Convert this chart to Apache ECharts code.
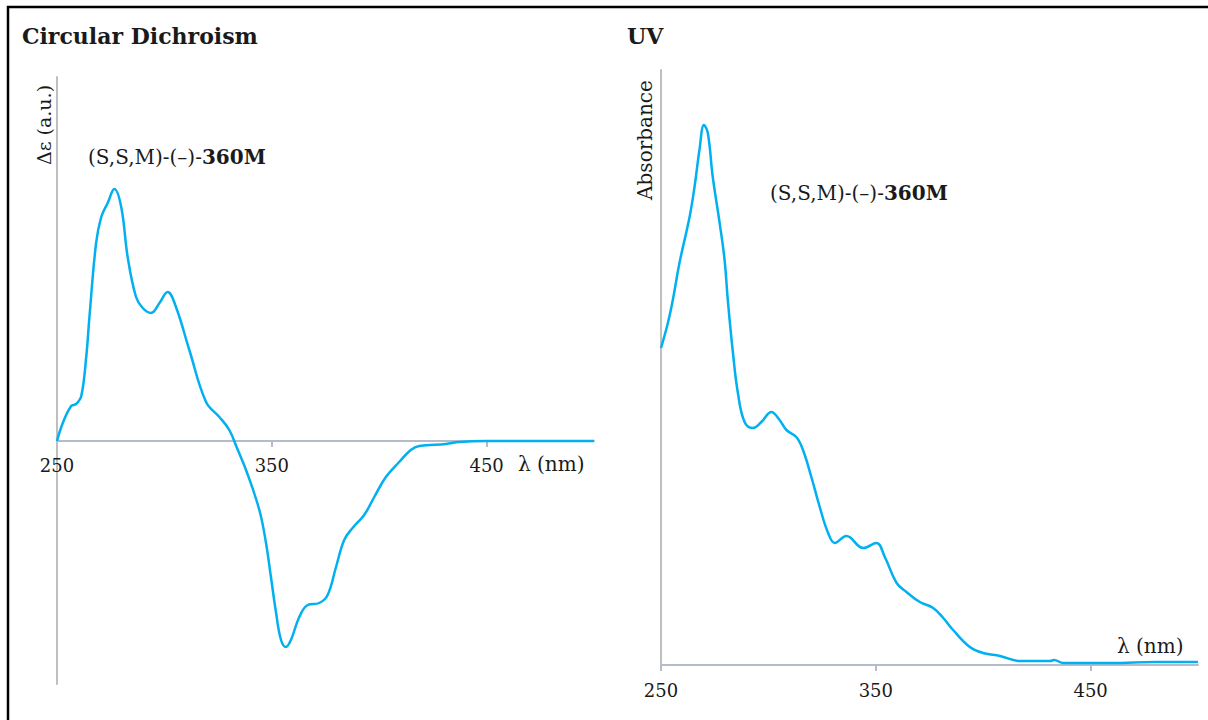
<!DOCTYPE html>
<html>
<head>
<meta charset="utf-8">
<script src="https://cdn.jsdelivr.net/npm/echarts@6/dist/echarts.min.js"></script>
<style>
  html, body { margin: 0; padding: 0; background: #fff; }
  #chart { width: 1208px; height: 720px; }
</style>
</head>
<body>
<div id="chart"></div>
<script>
// circular dichroism, arbitrary units
const cdWavelength = [250, 252.7, 256.6, 258.9, 261.3, 263.6, 265.1, 268.2, 270.6, 273.6, 276.7, 279.9, 282.9, 286.8, 289.9, 293.8, 297.7, 301.5, 305.4, 311.6, 319.4, 325.6, 330.2, 333.8, 338, 344.2, 347.3, 349.6, 352, 354.3, 356.6, 358.9, 362.8, 366.7, 372.1, 376, 379.9, 383.7, 387.6, 393, 397.7, 403.1, 409.3, 414.7, 418.6, 431, 437.2, 449.6, 475, 500]
const cdValue = [0, 0.18, 0.35, 0.37, 0.45, 0.84, 1.24, 1.98, 2.24, 2.38, 2.52, 2.34, 1.84, 1.44, 1.33, 1.28, 1.38, 1.49, 1.34, 0.91, 0.39, 0.24, 0.11, -0.07, -0.29, -0.69, -1.02, -1.36, -1.72, -1.99, -2.06, -1.99, -1.76, -1.64, -1.62, -1.54, -1.26, -0.99, -0.87, -0.74, -0.56, -0.36, -0.21, -0.09, -0.05, -0.03, -0.01, 0, 0, 0]

// UV absorbance, arbitrary units
const uvWavelength = [250, 253.2, 255.5, 258.6, 263.3, 265.6, 267.9, 270, 271.8, 274.1, 277.3, 279.6, 281.1, 283.5, 285.8, 288.9, 292.8, 296.7, 301.4, 305.2, 308.4, 313, 316.1, 320, 323.9, 327.8, 330.9, 336.3, 344.1, 350.3, 354.2, 359.7, 364.3, 370.5, 376.7, 381.4, 386, 393.8, 400, 407.8, 417.1, 431.1, 433, 437.3, 460, 480, 500]
const uvValue = [3.17, 3.42, 3.65, 4.02, 4.48, 4.78, 5.15, 5.4, 5.32, 4.88, 4.42, 4.05, 3.65, 3.12, 2.72, 2.43, 2.37, 2.43, 2.53, 2.45, 2.35, 2.28, 2.15, 1.88, 1.58, 1.32, 1.22, 1.29, 1.17, 1.22, 1.08, 0.82, 0.73, 0.63, 0.57, 0.47, 0.35, 0.18, 0.12, 0.09, 0.04, 0.04, 0.05, 0.02, 0.02, 0.03, 0.03]

const xTicks = [250, 350, 450]
const cdTicks = [350, 450]

const serif = '"DejaVu Serif", serif'
const lineColor = '#00b0f0'
const textColor = '#1a1a1a'

function pairs(xs, ys) {
  return xs.map((x, i) => [x, ys[i]])
}

const chart = echarts.init(document.getElementById('chart'), null, {renderer: 'svg'})

const labelStyle = {
  fontFamily: serif,
  fontSize: 18,
  color: textColor
}
const noAxis = {
  axisLine: {show: false},
  axisTick: {show: false},
  axisLabel: {show: false},
  splitLine: {show: false}
}

chart.setOption({
  animation: false,
  grid: [
    {left: 57, top: 77, width: 537, height: 607},
    {left: 661, top: 70, width: 537, height: 595},
    // upper half of the CD plot, only used to put the tick labels under the zero line
    {left: 57, top: 77, width: 537, height: 364}
  ],
  xAxis: [
    {
      type: 'value',
      gridIndex: 0,
      min: 250,
      max: 500,
      axisLine: {onZero: true, lineStyle: {color: '#b4bccc', width: 2}},
      axisTick: {customValues: cdTicks, length: 6, lineStyle: {color: '#b4bccc', width: 2}},
      axisLabel: {show: false},
      splitLine: {show: false}
    },
    {
      type: 'value',
      gridIndex: 1,
      min: 250,
      max: 500,
      axisLine: {lineStyle: {color: '#b4bccc', width: 2}},
      axisTick: {customValues: xTicks, length: 6, lineStyle: {color: '#b4bccc', width: 2}},
      axisLabel: Object.assign({customValues: xTicks, margin: 16}, labelStyle),
      splitLine: {show: false}
    },
    {
      type: 'value',
      gridIndex: 2,
      min: 250,
      max: 500,
      axisLine: {show: false},
      axisTick: {show: false},
      axisLabel: Object.assign({customValues: xTicks, margin: 15}, labelStyle),
      splitLine: {show: false}
    }
  ],
  yAxis: [
    {
      type: 'value',
      gridIndex: 0,
      min: -2.43,
      max: 3.64,
      axisLine: {show: true, onZero: false, lineStyle: {color: '#bfbfbf', width: 2}},
      axisTick: {show: false},
      axisLabel: {show: false},
      splitLine: {show: false}
    },
    {
      type: 'value',
      gridIndex: 1,
      min: 0,
      max: 5.95,
      axisLine: {show: true, onZero: false, lineStyle: {color: '#bfbfbf', width: 2}},
      axisTick: {show: false},
      axisLabel: {show: false},
      splitLine: {show: false}
    },
    Object.assign({type: 'value', gridIndex: 2, min: 0, max: 3.64}, noAxis)
  ],
  series: [
    {
      name: 'CD',
      type: 'line',
      xAxisIndex: 0,
      yAxisIndex: 0,
      smooth: 0.4,
      showSymbol: false,
      lineStyle: {color: lineColor, width: 2.5},
      data: pairs(cdWavelength, cdValue)
    },
    {
      name: 'UV',
      type: 'line',
      xAxisIndex: 1,
      yAxisIndex: 1,
      smooth: 0.4,
      showSymbol: false,
      lineStyle: {color: lineColor, width: 2.5},
      data: pairs(uvWavelength, uvValue)
    }
  ],
  graphic: [
    {
      type: 'rect',
      z: -1,
      shape: {x: 8, y: 7, width: 1300, height: 800},
      style: {fill: 'none', stroke: '#000', lineWidth: 2.5}
    },
    {
      type: 'text', x: 22, y: 36,
      style: {text: 'Circular Dichroism', font: 'bold 22px ' + serif, fill: textColor, align: 'left', verticalAlign: 'middle'}
    },
    {
      type: 'text', x: 627, y: 36,
      style: {text: 'UV', font: 'bold 22px ' + serif, fill: textColor, align: 'left', verticalAlign: 'middle'}
    },
    {
      type: 'text', x: 44, y: 125, rotation: Math.PI / 2,
      style: {text: 'Δε (a.u.)', font: '19px ' + serif, fill: textColor, align: 'center', verticalAlign: 'middle'}
    },
    {
      type: 'text', x: 645, y: 140, rotation: Math.PI / 2,
      style: {text: 'Absorbance', font: '20px ' + serif, fill: textColor, align: 'center', verticalAlign: 'middle'}
    },
    {
      type: 'text', x: 518, y: 464,
      style: {text: 'λ (nm)', font: '20px ' + serif, fill: textColor, align: 'left', verticalAlign: 'middle'}
    },
    {
      type: 'text', x: 1117, y: 646,
      style: {text: 'λ (nm)', font: '20px ' + serif, fill: textColor, align: 'left', verticalAlign: 'middle'}
    },
    {
      type: 'text', x: 88, y: 157,
      style: {
        text: '(S,S,M)-(–)-{b|360M}', font: '20px ' + serif, fill: textColor,
        align: 'left', verticalAlign: 'middle',
        rich: {b: {fontWeight: 'bold', fontSize: 20, fontFamily: serif, fill: textColor}}
      }
    },
    {
      type: 'text', x: 770, y: 193,
      style: {
        text: '(S,S,M)-(–)-{b|360M}', font: '20px ' + serif, fill: textColor,
        align: 'left', verticalAlign: 'middle',
        rich: {b: {fontWeight: 'bold', fontSize: 20, fontFamily: serif, fill: textColor}}
      }
    }
  ]
})
</script>
</body>
</html>
